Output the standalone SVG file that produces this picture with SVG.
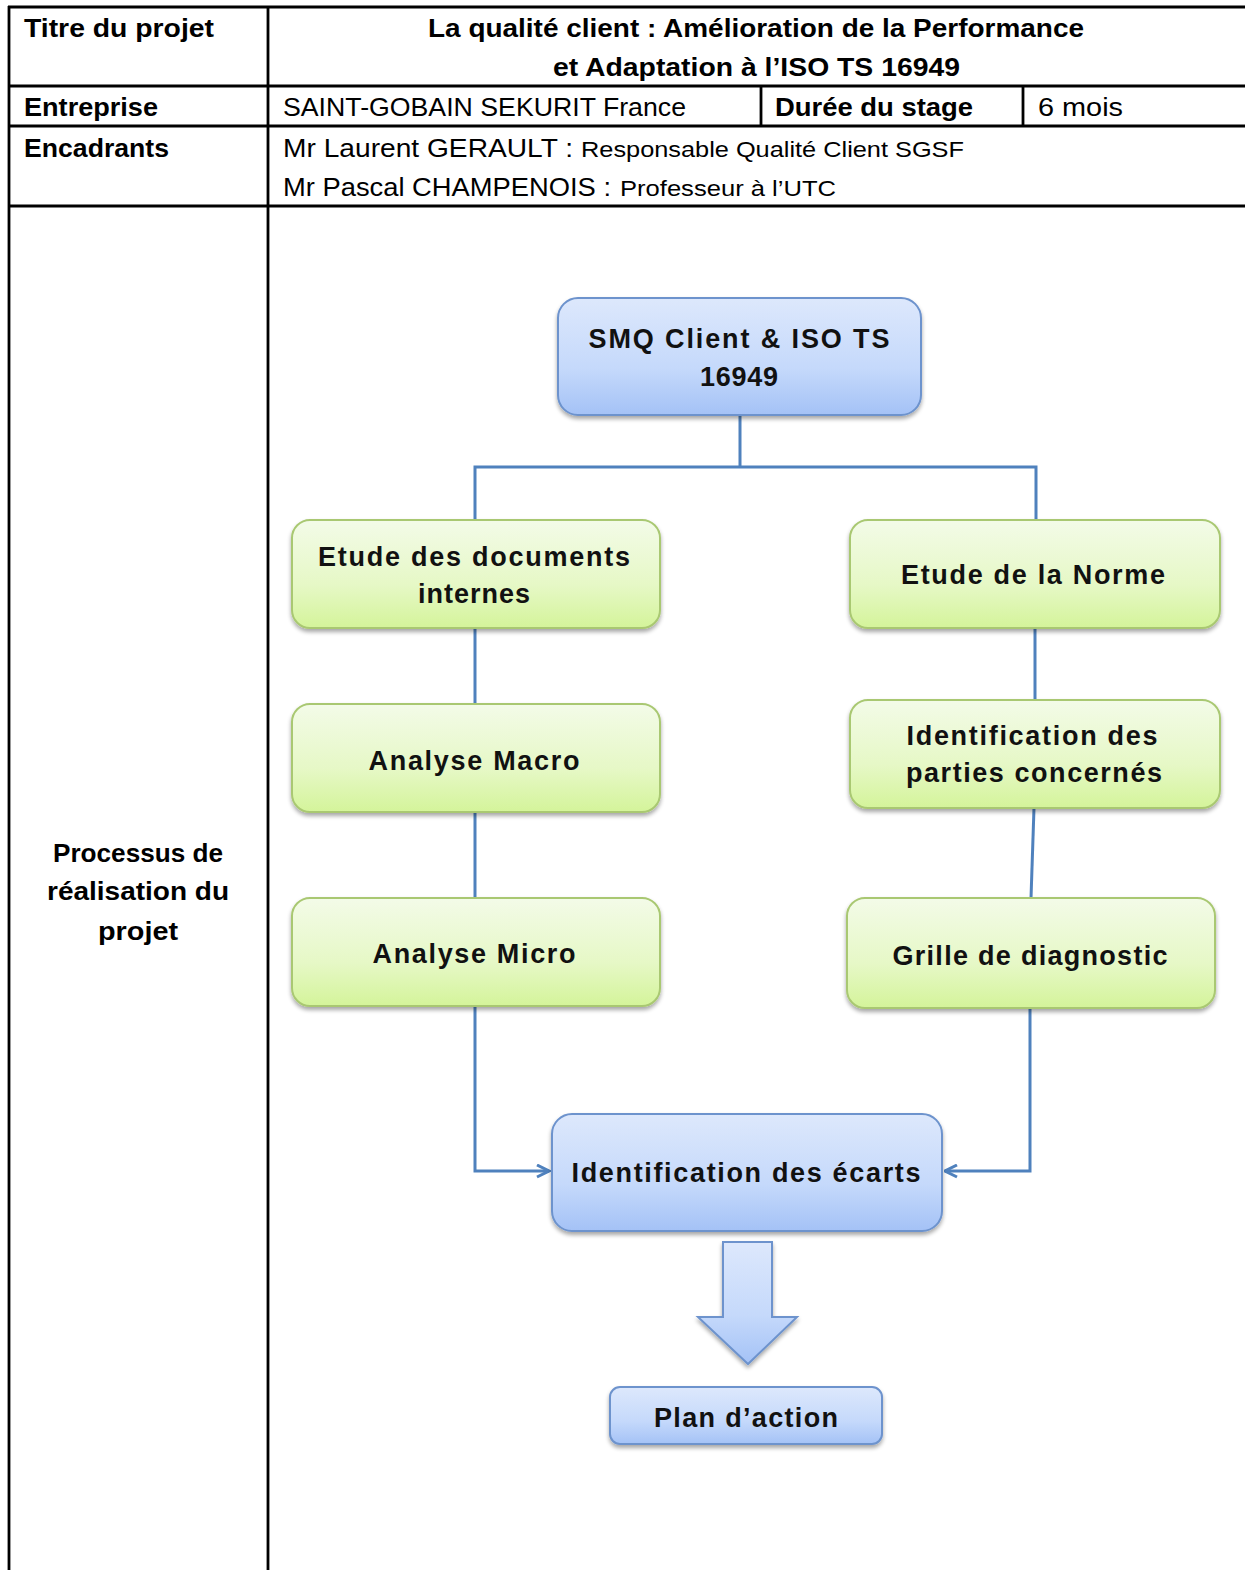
<svg xmlns="http://www.w3.org/2000/svg" width="1245" height="1570" viewBox="0 0 1245 1570">
<style>
.tl{stroke:#000;stroke-width:2.8;fill:none}
.h{font-family:"Liberation Sans",Arial,sans-serif;font-size:25px;fill:#000}
.b{font-weight:bold}
.n{font-family:"Liberation Sans",Arial,sans-serif;font-size:27px;font-weight:bold;fill:#111;text-anchor:middle}
.blue{fill:url(#gb);stroke:#6d93cd;stroke-width:2;filter:url(#sh)}
.green{fill:url(#gg);stroke:#a9c872;stroke-width:2;filter:url(#sh)}
.c{stroke:#4f81bd;stroke-width:3;fill:none}
</style>
<defs>
<linearGradient id="gb" x1="0" y1="0" x2="0" y2="1"><stop offset="0" stop-color="#dde8fc"/><stop offset="0.6" stop-color="#c5d9fb"/><stop offset="1" stop-color="#a4c2f6"/></linearGradient>
<linearGradient id="gg" x1="0" y1="0" x2="0" y2="1"><stop offset="0" stop-color="#f3fbe8"/><stop offset="0.6" stop-color="#e6f8c6"/><stop offset="1" stop-color="#d4f49a"/></linearGradient>
<filter id="sh" x="-10%" y="-10%" width="120%" height="130%"><feGaussianBlur in="SourceAlpha" stdDeviation="2"/><feOffset dx="0" dy="3"/><feComponentTransfer><feFuncA type="linear" slope="0.35"/></feComponentTransfer><feMerge><feMergeNode/><feMergeNode in="SourceGraphic"/></feMerge></filter>
<marker id="ar" viewBox="0 0 10 10" refX="9" refY="5" markerWidth="5" markerHeight="5" orient="auto" markerUnits="strokeWidth"><path d="M1,1 L9,5 L1,9" fill="none" stroke="#4f81bd" stroke-width="2"/></marker>
</defs>
<rect x="0" y="0" width="1245" height="1570" fill="#fff"/>
<g id="table">
<line class="tl" x1="8" y1="7" x2="1245" y2="7"/>
<line class="tl" x1="8" y1="86" x2="1245" y2="86"/>
<line class="tl" x1="8" y1="126" x2="1245" y2="126"/>
<line class="tl" x1="8" y1="206" x2="1245" y2="206"/>
<line class="tl" x1="9" y1="6" x2="9" y2="1570"/>
<line class="tl" x1="268" y1="6" x2="268" y2="1570"/>
<line class="tl" x1="761" y1="86" x2="761" y2="126"/>
<line class="tl" x1="1023" y1="86" x2="1023" y2="126"/>
<text class="h b" x="24" y="37" textLength="190" lengthAdjust="spacingAndGlyphs">Titre du projet</text>
<text class="h b" x="428" y="37" textLength="656" lengthAdjust="spacingAndGlyphs">La qualité client : Amélioration de la Performance</text>
<text class="h b" x="553" y="76" textLength="407" lengthAdjust="spacingAndGlyphs">et  Adaptation à l’ISO TS 16949</text>
<text class="h b" x="24" y="116" textLength="134" lengthAdjust="spacingAndGlyphs">Entreprise</text>
<text class="h" x="283" y="116" textLength="403" lengthAdjust="spacingAndGlyphs">SAINT-GOBAIN SEKURIT France</text>
<text class="h b" x="775" y="116" textLength="198" lengthAdjust="spacingAndGlyphs">Durée du stage</text>
<text class="h" x="1038" y="116" textLength="85" lengthAdjust="spacingAndGlyphs">6 mois</text>
<text class="h b" x="24" y="157" textLength="145" lengthAdjust="spacingAndGlyphs">Encadrants</text>
<text class="h" x="283" y="157" textLength="290" lengthAdjust="spacingAndGlyphs">Mr Laurent GERAULT :</text>
<text class="h" x="581" y="157" style="font-size:22px" textLength="383" lengthAdjust="spacingAndGlyphs">Responsable Qualité Client SGSF</text>
<text class="h" x="283" y="196" textLength="328" lengthAdjust="spacingAndGlyphs">Mr Pascal CHAMPENOIS :</text>
<text class="h" x="620" y="196" style="font-size:22px" textLength="216" lengthAdjust="spacingAndGlyphs">Professeur à l’UTC</text>
<text class="h b" x="53" y="862" textLength="170" lengthAdjust="spacingAndGlyphs">Processus de</text>
<text class="h b" x="47" y="900" textLength="182" lengthAdjust="spacingAndGlyphs">réalisation du</text>
<text class="h b" x="98" y="940" textLength="80" lengthAdjust="spacingAndGlyphs">projet</text>
</g>
<g id="connectors">
<polyline class="c" points="740,415 740,467"/>
<polyline class="c" points="475,520 475,467 1036,467 1036,520"/>
<line class="c" x1="475" y1="628" x2="475" y2="704"/>
<line class="c" x1="475" y1="812" x2="475" y2="898"/>
<line class="c" x1="1035" y1="628" x2="1035" y2="700"/>
<line class="c" x1="1034" y1="808" x2="1031" y2="898"/>
<polyline class="c" points="475,1006 475,1171 549,1171" marker-end="url(#ar)"/>
<polyline class="c" points="1030,1008 1030,1171 945,1171" marker-end="url(#ar)"/>
</g>
<g id="n-smq">
<rect class="blue" x="558" y="298" width="363" height="117" rx="20"/>
<text class="n" x="739" y="348" textLength="301" lengthAdjust="spacing">SMQ Client &amp; ISO TS</text>
<text class="n" x="739" y="386" textLength="78" lengthAdjust="spacing">16949</text>
</g>
<g id="n-docs">
<rect class="green" x="292" y="520" width="368" height="108" rx="18"/>
<text class="n" x="474" y="566" textLength="312" lengthAdjust="spacing">Etude des documents</text>
<text class="n" x="474" y="603" textLength="112" lengthAdjust="spacing">internes</text>
</g>
<g id="n-norme">
<rect class="green" x="850" y="520" width="370" height="108" rx="18"/>
<text class="n" x="1033" y="584" textLength="264" lengthAdjust="spacing">Etude de la Norme</text>
</g>
<g id="n-macro">
<rect class="green" x="292" y="704" width="368" height="108" rx="18"/>
<text class="n" x="474" y="770" textLength="211" lengthAdjust="spacing">Analyse Macro</text>
</g>
<g id="n-parties">
<rect class="green" x="850" y="700" width="370" height="108" rx="18"/>
<text class="n" x="1032" y="745" textLength="251" lengthAdjust="spacing">Identification des</text>
<text class="n" x="1034" y="782" textLength="256" lengthAdjust="spacing">parties concernés</text>
</g>
<g id="n-micro">
<rect class="green" x="292" y="898" width="368" height="108" rx="18"/>
<text class="n" x="474" y="963" textLength="203" lengthAdjust="spacing">Analyse Micro</text>
</g>
<g id="n-grille">
<rect class="green" x="847" y="898" width="368" height="110" rx="18"/>
<text class="n" x="1030" y="965" textLength="275" lengthAdjust="spacing">Grille de diagnostic</text>
</g>
<g id="n-ecarts">
<rect class="blue" x="552" y="1114" width="390" height="117" rx="20"/>
<text class="n" x="746" y="1182" textLength="349" lengthAdjust="spacing">Identification des écarts</text>
</g>
<g id="n-arrow">
<path class="blue" d="M723,1242 L772,1242 L772,1317 L797,1317 L748,1364 L698,1317 L723,1317 Z" stroke-linejoin="miter"/>
</g>
<g id="n-plan">
<rect class="blue" x="610" y="1387" width="272" height="57" rx="10"/>
<text class="n" x="746" y="1427" textLength="184" lengthAdjust="spacing">Plan d’action</text>
</g>
</svg>
